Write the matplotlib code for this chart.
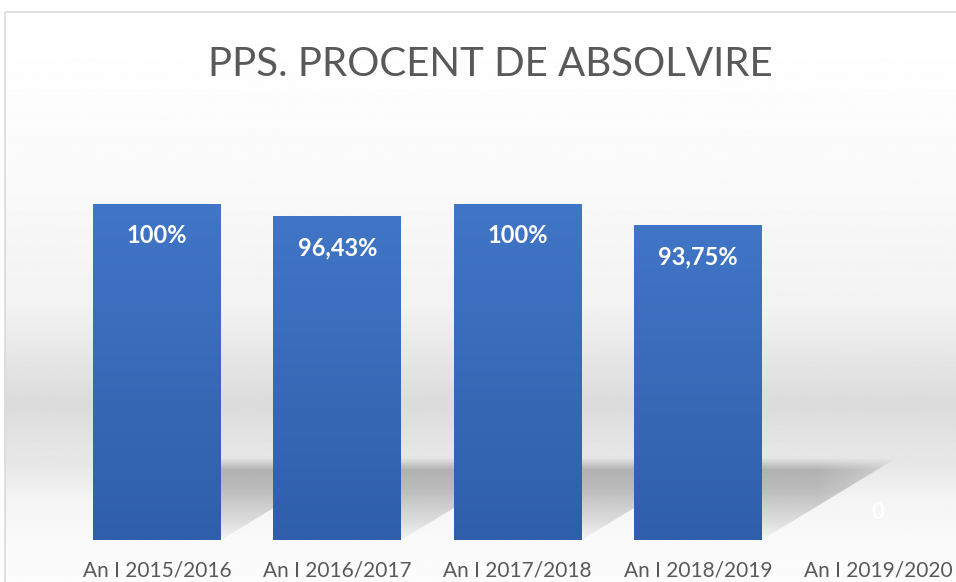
import numpy as np
import matplotlib.pyplot as plt
from matplotlib.patches import Rectangle, Polygon
from matplotlib.colors import LinearSegmentedColormap

categories = ["An I 2015/2016", "An I 2016/2017", "An I 2017/2018", "An I 2018/2019", "An I 2019/2020"]
values = [100, 96.43, 100, 93.75, 0]
labels = ["100%", "96,43%", "100%", "93,75%", "0"]

plt.rcParams['font.family'] = ['Lato', 'DejaVu Sans']

W, H = 956, 582
fig = plt.figure(figsize=(W / 100, H / 100), dpi=100)

# background with soft grey band (pixel coords)
bg = fig.add_axes([0, 0, 1, 1])
bg.set_xlim(0, W)
bg.set_ylim(H, 0)
bg.axis("off")
rows = np.arange(H)
shade = np.interp(rows, [0, 12, 150, 300, 400, 440, 460, 500, 540, 582],
                  [1.0, 1.0, 0.985, 0.95, 0.86, 0.895, 0.905, 0.96, 0.98, 0.99])
img = np.repeat(shade[:, None], 2, axis=1)
bg.imshow(img, cmap="gray", vmin=0, vmax=1, extent=(5, W + 5, H, 12), aspect="auto", zorder=0)
bg.add_patch(Rectangle((5, 12), W, H, fill=False, ec="#d9d9d9", lw=1.2, zorder=1))

# main axes
ax = fig.add_axes([0, 1 - 540 / H, 1, 336 / H])
ax.patch.set_alpha(0)
step = 180.25
for s in ax.spines.values():
    s.set_visible(False)
ax.set_yticks([])

x = np.arange(len(categories))
bars = ax.bar(x, values, width=0.71, color="#3f6fbf", zorder=3)

grad = np.linspace(0, 1, 256)[:, None]
cmap = LinearSegmentedColormap.from_list("b", ["#2f5fab", "#4175c6"])

# shadow alpha profile (bottom -> top), fading to the right
sh_top, skew = 24.5, 0.75
ty = np.linspace(0, 1, 200)
a_y = np.interp(ty, [0, 0.2, 0.6, 0.85, 0.93, 1.0], [0.02, 0.1, 0.22, 0.24, 0.1, 0.0])
tx = np.linspace(0, 1, 100)
a_x = np.interp(tx, [0, 0.7, 1.0], [1.0, 1.0, 0.45])
sh_img = np.zeros((200, 100, 4))
sh_img[..., 3] = a_y[:, None] * a_x[None, :]

for b in bars:
    if b.get_height() <= 0:
        continue
    im = ax.imshow(grad, cmap=cmap, aspect="auto", zorder=4,
                   extent=(b.get_x(), b.get_x() + b.get_width(), 0, b.get_height()),
                   origin="lower")
    im.set_clip_path(b)
    # floor shadow
    x0, x1 = b.get_x(), b.get_x() + b.get_width()
    poly = Polygon([(x0, 0), (x1, 0), (x1 + skew, sh_top), (x0, sh_top)],
                   closed=True, fc="none", ec="none")
    ax.add_patch(poly)
    si = ax.imshow(sh_img, aspect="auto", zorder=2, origin="lower",
                   extent=(x0, x1 + skew, 0, sh_top))
    si.set_clip_path(poly)

ax.set_xlim(-157 / step, (W - 157) / step)
ax.set_ylim(0, 100)

for xi, v, lab in zip(x, values, labels):
    if v > 0:
        ax.annotate(lab, (xi, v), xytext=(0, -23), textcoords="offset points",
                    ha="center", va="center", color="white", fontsize=17,
                    fontweight="bold", zorder=6)
    else:
        ax.annotate(lab, (xi, 0), xytext=(0, 19.5), textcoords="offset points",
                    ha="center", va="center", color="white", fontsize=16,
                    fontweight="bold", zorder=6)

ax.set_xticks(x)
ax.set_xticklabels(categories, fontsize=15, color="#595959")
ax.tick_params(axis="x", length=0, pad=15)

fig.text(490 / W, 1 - 65 / H, "PPS. PROCENT DE ABSOLVIRE", ha="center", va="center",
         fontsize=29, color="#595959")

fig.savefig("out.png", dpi=100)
